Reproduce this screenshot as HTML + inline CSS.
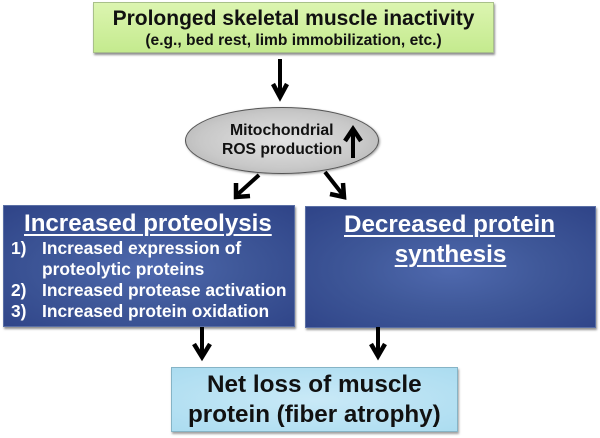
<!DOCTYPE html>
<html>
<head>
<meta charset="utf-8">
<style>
html,body{margin:0;padding:0;background:#fff;}
#c{position:relative;width:600px;height:438px;overflow:hidden;background:#fff;font-family:"Liberation Sans",sans-serif;font-weight:bold;filter:blur(.3px);}
.b{position:absolute;box-sizing:border-box;}
.t{position:absolute;white-space:nowrap;line-height:1;}
.blue{background:radial-gradient(ellipse at 50% 52%,#4f69ae 0%,#3f5899 45%,#2f4488 100%);border:1px solid #5a6fa5;box-shadow:1px 2px 2px rgba(70,70,70,.6);}
.w{color:#fff;}
.u{text-decoration:underline;text-decoration-thickness:2px;text-underline-offset:3px;}
.l{font-size:17.4px;}
svg{position:absolute;left:0;top:0;}
</style>
</head>
<body>
<div id="c">
<div class="b" style="left:93px;top:2px;width:401px;height:51px;background:linear-gradient(#dcf5b0,#c4ea8e);border:1px solid #a9c08a;box-shadow:1px 2px 2px rgba(70,70,70,.6);"></div>
<div class="t" style="left:93px;width:401px;top:8px;text-align:center;font-size:21px;color:#111;">Prolonged skeletal muscle inactivity</div>
<div class="t" style="left:93px;width:401px;top:33px;text-align:center;font-size:15.6px;color:#111;">(e.g., bed rest, limb immobilization, etc.)</div>

<div class="b" style="left:185px;top:107px;width:194px;height:67px;border-radius:50%;background:radial-gradient(ellipse at 50% 50%,#e2e2e2 0%,#c8c8c8 60%,#a9a9a9 100%);border:1px solid #555;box-shadow:1px 1px 2px rgba(70,70,70,.5);"></div>
<div class="t" style="left:230px;top:123px;font-size:15.8px;color:#111;">Mitochondrial</div>
<div class="t" style="left:222px;top:142px;font-size:15.7px;color:#111;">ROS production</div>

<div class="b blue" style="left:3px;top:205px;width:292px;height:122px;"></div>
<div class="t w u" style="left:24px;top:212px;font-size:24.1px;">Increased proteolysis</div>
<div class="t w l" style="left:11px;top:240px;">1)</div>
<div class="t w l" style="left:42px;top:240px;">Increased expression of</div>
<div class="t w l" style="left:42px;top:261px;">proteolytic proteins</div>
<div class="t w l" style="left:11px;top:282px;">2)</div>
<div class="t w l" style="left:42px;top:282px;">Increased protease activation</div>
<div class="t w l" style="left:11px;top:303px;">3)</div>
<div class="t w l" style="left:42px;top:303px;">Increased protein oxidation</div>

<div class="b blue" style="left:305px;top:206px;width:291px;height:122px;"></div>
<div class="t w u" style="left:344px;top:213px;font-size:24.2px;">Decreased protein</div>
<div class="t w u" style="left:305px;width:291px;top:243px;text-align:center;font-size:24.2px;">synthesis</div>

<div class="b" style="left:171px;top:367px;width:287px;height:65px;background:radial-gradient(ellipse at 50% 50%,#c9e9f7 0%,#abdcf0 100%);border:1px solid #86b4c6;box-shadow:1px 2px 2px rgba(70,70,70,.5);"></div>
<div class="t" style="left:207px;top:373px;font-size:24.3px;color:#111;">Net loss of muscle</div>
<div class="t" style="left:188px;top:403px;font-size:24.2px;color:#111;">protein (fiber atrophy)</div>

<svg width="600" height="438" viewBox="0 0 600 438" fill="none" stroke="#000" stroke-width="4">
<path d="M280 59V97"/><path d="M273 84L280 97L287 84" stroke-width="4.5"/>
<path d="M353 158V130"/><path d="M345 141L353 129L361 141" stroke-width="4.5"/>
<path d="M259 175L238 194"/><path d="M236 183L236 197L250 196" stroke-width="4.5"/>
<path d="M325 172L343 195"/><path d="M330 194L344 197L343 183" stroke-width="4.5"/>
<path d="M202 327V355"/><path d="M194 344L202 357L210 344" stroke-width="4.5"/>
<path d="M378 327V355"/><path d="M371 344L378 356L385 344" stroke-width="4.5"/>
</svg>
</div>
</body>
</html>
